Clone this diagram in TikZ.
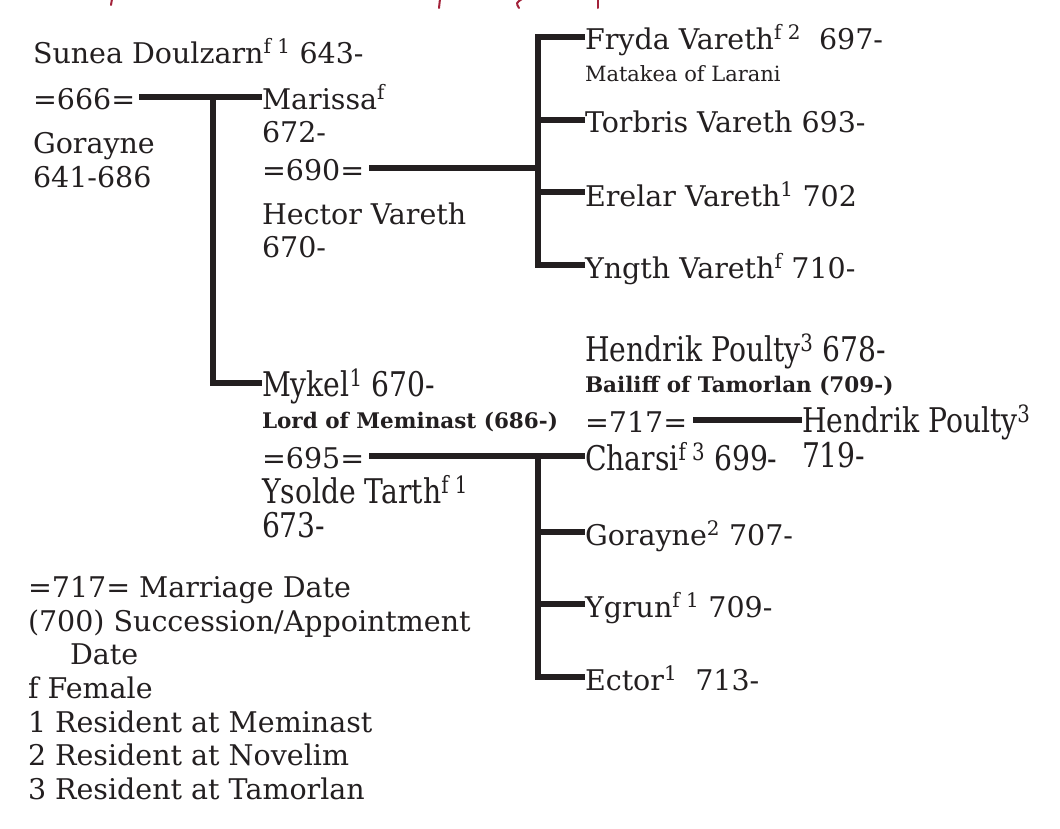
\documentclass[tikz,border=0pt]{standalone}
\usepackage{graphicx}
\usepackage{fontspec}
\setmainfont{DejaVu Serif}
\definecolor{ink}{HTML}{231F20}
\definecolor{ornred}{HTML}{A3223A}
\newcommand\mainsz{\fontsize{28.5}{32}\selectfont}
\newcommand\boldsz{\fontsize{21.5}{24}\selectfont\bfseries}
\newcommand\smallsz{\fontsize{21}{24}\selectfont}
\newcommand\cnd[1]{\scalebox{0.83}[1]{\fontsize{34}{38}\selectfont #1}}
\tikzset{
  tree/.style={line width=5.5pt, draw=ink, line cap=butt, line join=miter},
  txt/.style={anchor=base west, inner sep=0pt, outer sep=0pt, text=ink, font=\mainsz},
  boldtxt/.style={txt, font=\boldsz},
  smalltxt/.style={txt, font=\smallsz},
  orn/.style={draw=ornred, line width=2pt, line cap=round},
}
\begin{document}
\begin{tikzpicture}[x=1pt,y=-1pt]
\fill[white] (0,0) rectangle (1060,828);
\useasboundingbox (0,0) rectangle (1060,828);
% ornament fragments at top edge
\draw[orn] (112,-1) -- (111,5);
\draw[orn] (440,-1) -- (439,8);
\draw[orn] (522,-1) .. controls (516,3) .. (519,8);
\draw[orn] (598,-1) -- (598,8);
% generation 1
\node[txt] (sunea) at (33,63) {Sunea Doulzarn\textsuperscript{f 1} 643-};
\node[txt] (m666) at (33,109) {=666=};
\node[txt] (gor1) at (33,153) {Gorayne};
\node[txt] (gor1d) at (33,187) {641-686};
% generation 2
\node[txt] (marissa) at (262,109) {Marissa\textsuperscript{f}};
\node[txt] (marissad) at (262,142) {672-};
\node[txt] (m690) at (262,180) {=690=};
\node[txt] (hector) at (262,224) {Hector Vareth};
\node[txt] (hectord) at (262,257) {670-};
\node[txt] (mykel) at (262,396) {\cnd{Mykel\textsuperscript{1} 670-}};
\node[boldtxt] (lord) at (262,428) {Lord of Meminast (686-)};
\node[txt] (m695) at (262,468) {=695=};
\node[txt] (ysolde) at (262,503) {\cnd{Ysolde Tarth\textsuperscript{f 1}}};
\node[txt] (ysolded) at (262,537) {\cnd{673-}};
% generation 3 (Vareth)
\node[txt] (fryda) at (585,49) {Fryda Vareth\textsuperscript{f 2}\ \ 697-};
\node[smalltxt] (matakea) at (585,81) {Matakea of Larani};
\node[txt] (torbris) at (585,132) {Torbris Vareth 693-};
\node[txt] (erelar) at (585,206) {Erelar Vareth\textsuperscript{1} 702};
\node[txt] (yngth) at (585,278) {Yngth Vareth\textsuperscript{f} 710-};
% generation 3 (Mykel)
\node[txt] (hend1) at (585,361) {\cnd{Hendrik Poulty\textsuperscript{3} 678-}};
\node[boldtxt] (bailiff) at (585,392) {Bailiff of Tamorlan (709-)};
\node[txt] (m717) at (585,432) {=717=};
\node[txt] (hend2) at (802,432) {\cnd{Hendrik Poulty\textsuperscript{3}}};
\node[txt] (hend2d) at (802,467) {\cnd{719-}};
\node[txt] (charsi) at (585,470) {\cnd{Charsi\textsuperscript{f 3} 699-}};
\node[txt] (gor2) at (585,545) {Gorayne\textsuperscript{2} 707-};
\node[txt] (ygrun) at (585,617) {Ygrun\textsuperscript{f 1} 709-};
\node[txt] (ector) at (585,690) {Ector\textsuperscript{1}\ \ 713-};
% legend
\node[txt] (lg1) at (28,597) {=717= Marriage Date};
\node[txt] (lg2) at (28,631) {(700) Succession/Appointment};
\node[txt] (lg3) at (70,664) {Date};
\node[txt] (lg4) at (28,698) {f Female};
\node[txt] (lg5) at (28,732) {1 Resident at Meminast};
\node[txt] (lg6) at (28,765) {2 Resident at Novelim};
\node[txt] (lg7) at (28,799) {3 Resident at Tamorlan};
% junction coordinates
\coordinate (a666) at (139,97);
\coordinate (v1t) at (213,97);
\coordinate (v1b) at (213,383);
\coordinate (a690) at (369,168);
\coordinate (v2m) at (538,168);
\coordinate (v2t) at (538,37);
\coordinate (v2a) at (538,120);
\coordinate (v2c) at (538,192);
\coordinate (v2b) at (538,265);
\coordinate (a695) at (369,456);
\coordinate (v3t) at (538,456);
\coordinate (v3a) at (538,532);
\coordinate (v3c) at (538,604);
\coordinate (v3b) at (538,677);
\coordinate (a717) at (693,420);
% connectors
\draw[tree] (a666) -- (marissa.west |- a666);
\draw[tree] (v1t) -- (v1b) -- (mykel.west |- v1b);
\draw[tree] (a690) -- (v2m);
\draw[tree] (fryda.west |- v2t) -- (v2t) -- (v2b) -- (yngth.west |- v2b);
\draw[tree] (v2a) -- (torbris.west |- v2a);
\draw[tree] (v2c) -- (erelar.west |- v2c);
\draw[tree] (a695) -- (charsi.west |- a695);
\draw[tree] (v3t) -- (v3b) -- (ector.west |- v3b);
\draw[tree] (v3a) -- (gor2.west |- v3a);
\draw[tree] (v3c) -- (ygrun.west |- v3c);
\draw[tree] (a717) -- (hend2.west |- a717);
\end{tikzpicture}
\end{document}
